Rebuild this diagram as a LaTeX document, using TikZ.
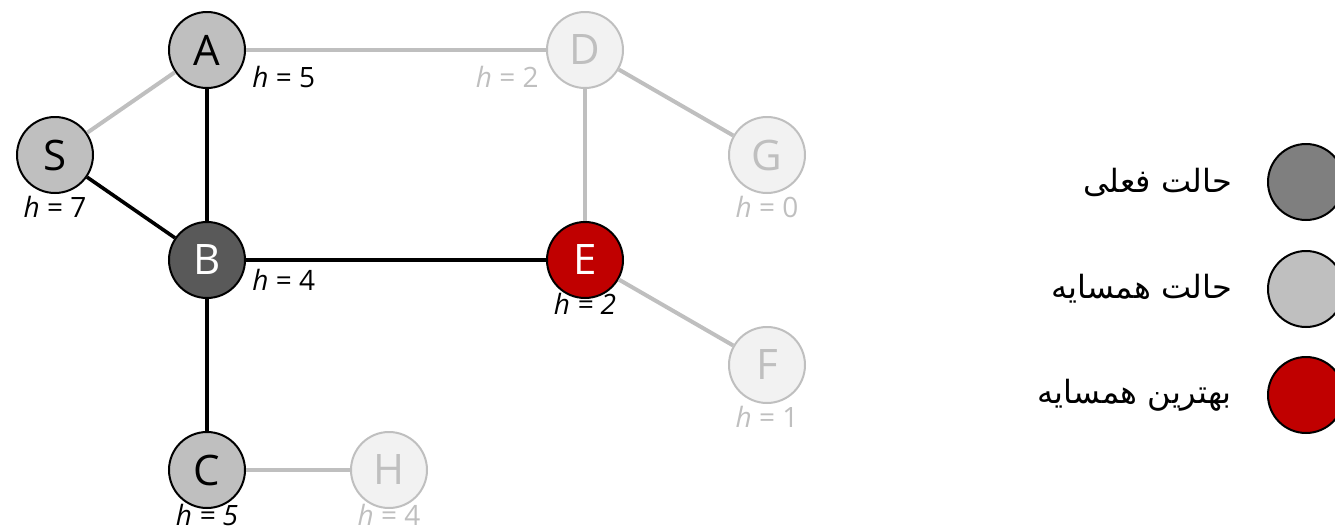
\documentclass[tikz,border=0pt]{standalone}
\usepackage{fontspec}
\setmainfont{Open Sans}
\newfontfamily\persianfont[Script=Arabic]{DejaVu Sans}
\TeXXeTstate=1
\usepackage{xcolor}
\usetikzlibrary{positioning}

\definecolor{curgray}{HTML}{595959}
\definecolor{keygray}{HTML}{7F7F7F}
\definecolor{nbrgray}{HTML}{BFBFBF}
\definecolor{idlegray}{HTML}{F2F2F2}
\definecolor{bestred}{HTML}{C00000}

\begin{document}
\begin{tikzpicture}[x=0.5pt,y=-0.5pt,
  every node/.style={font=\fontsize{14}{16}\selectfont},
  state/.style={circle,draw,line width=1pt,minimum size=38pt,inner sep=0pt,
    font=\fontsize{21}{24}\selectfont},
  nbr/.style={state,fill=nbrgray},
  cur/.style={state,fill=curgray,text=white},
  best/.style={state,fill=bestred,text=white},
  idle/.style={state,draw=nbrgray,fill=idlegray,text=nbrgray},
  hlab/.style={inner sep=1pt},
  faded/.style={hlab,text=nbrgray},
  walk/.style={line width=1.8pt},
  pale/.style={line width=2pt,draw=nbrgray},
  keytext/.style={anchor=east,font=\persianfont\fontsize{16}{18}\selectfont}]
\useasboundingbox (0,0) rectangle (1335,531);
% states
\node[nbr]  (A) at (207,50)  {A};
\node[idle] (D) at (585,50)  {D};
\node[nbr]  (S) at (55,155)  {S};
\node[idle] (G) at (767,155) {G};
\node[cur]  (B) at (207,260) {B};
\node[best] (E) at (585,260) {E};
\node[idle] (F) at (767,365) {F};
\node[nbr]  (C) at (207,470) {C};
\node[idle] (H) at (389,470) {H};
% edges
\foreach \a/\b in {S/A,A/D,D/G,D/E,E/F,C/H}
  \draw[pale] (\a) -- (\b);
\foreach \a/\b in {A/B,S/B,B/E,B/C}
  \draw[walk] (\a) -- (\b);
% heuristic values
\node[hlab,anchor=west] at (250,77) {\textit{h} = 5};
\node[faded,anchor=east] at (541,77) {\textit{h} = 2};
\node[hlab,below=0pt of S] {\textit{h} = 7};
\node[faded,below=0pt of G] {\textit{h} = 0};
\node[hlab,anchor=west] at (250,280) {\textit{h} = 4};
\node[hlab,below=-4pt of E] {\itshape h = 2};
\node[faded,below=0pt of F] {\textit{h} = 1};
\node[hlab,below=-3.5pt of C] {\itshape h = 5};
\node[faded,below=-3.5pt of H] {\textit{h} = 4};
% legend
\node[state,fill=keygray] (k1) at (1306,182) {};
\node[state,fill=nbrgray] (k2) at (1306,289) {};
\node[state,fill=bestred] (k3) at (1306,395) {};
\node[keytext,left=14pt of k1] {\beginR حالت فعلی\endR};
\node[keytext,left=14pt of k2] {\beginR حالت همسایه\endR};
\node[keytext,left=14pt of k3] {\beginR بهترین همسایه\endR};
\end{tikzpicture}
\end{document}
